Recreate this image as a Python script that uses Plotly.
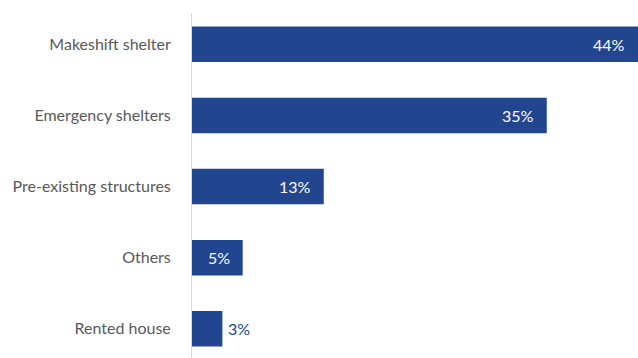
import plotly.graph_objects as go

# Shelter type shares (percent), listed top to bottom
categories = ["Makeshift shelter", "Emergency shelters", "Pre-existing structures", "Others", "Rented house"]
values = [44, 35, 13, 5, 3]
labels = [f"{v}%" for v in values]

BAR = "#21458f"
FONT = "Lato, 'Open Sans', sans-serif"

fig = go.Figure(go.Bar(
    y=categories,
    x=values,
    orientation="h",
    marker=dict(color=BAR, line=dict(width=0)),
    hoverinfo="skip",
))

# value labels: inside the bar end for wide bars, just past it for narrow ones
for cat, v, lab in zip(categories, values, labels):
    inside = v >= 5
    fig.add_annotation(
        x=v, y=cat, text=lab, showarrow=False,
        xanchor="right" if inside else "left",
        xshift=-11 if inside else 4,
        font=dict(family=FONT, size=16, color="white" if inside else BAR),
    )

fig.update_layout(
    width=638, height=358,
    margin=dict(l=192, r=0, t=13, b=0),
    paper_bgcolor="white", plot_bgcolor="white",
    bargap=0.5,
    showlegend=False,
    font=dict(family=FONT, size=16, color="#595959"),
    xaxis=dict(range=[0, 44], visible=False, fixedrange=True),
    yaxis=dict(
        range=[4.41, -0.44],
        showline=True, linecolor="#d9d9d9", linewidth=1,
        showgrid=False, zeroline=False, ticks="",
        ticklabelstandoff=17,
        tickfont=dict(family=FONT, size=16, color="#595959"),
    ),
)

fig.write_html("out.html")
